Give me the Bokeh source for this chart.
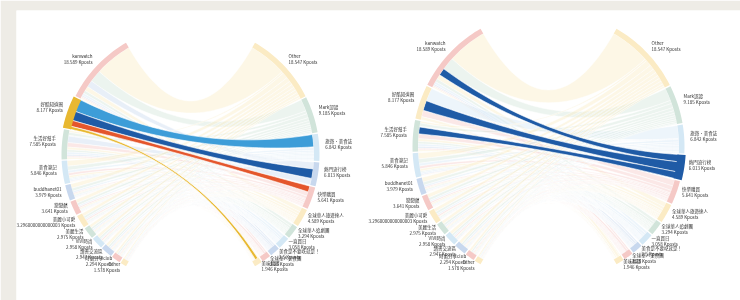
import math
from bokeh.plotting import figure
from bokeh.models import Range1d, ColumnDataSource
from bokeh.core.properties import value
from bokeh.embed import file_html
from bokeh.resources import INLINE

# ---------------- data ----------------
left_names = ["kanwatch", "好酷知道圈", "生活好幫手", "美食筆記", "buddhanet01", "戀戀館",
              "美麗小可愛", "美麗生活", "VIVI時尚", "讀書交流區", "時尚分享club", "Other"]
left_values = [18.589, 8.177, 7.585, 5.846, 3.979, 3.641,
               3.2960000000000003, 2.975, 2.958, 2.947, 2.294, 1.578]

right_names = ["Other", "Mark認證", "旅遊・美食誌", "熱門流行榜", "快樂購買", "全球華人旅遊達人",
               "全球華人追劇團", "一直買日", "美食是不要吃就是！", "全球華人美食團", "美味翻譯"]
right_values = [18.547, 9.185, 6.842, 6.013, 5.641, 4.589, 3.294, 3.058, 2.5, 2.25, 1.946]

# flows[source][target]  (Kposts)
flows = [
    [10.0, 3.2, 0.0, 1.8, 0.0, 1.2, 0.8, 0.6, 0.4, 0.3, 0.289],
    [0.0, 0.0, 3.3, 2.5, 1.6, 0.0, 0.0, 0.0, 0.0, 0.0, 0.777],
    [0.5, 0.8, 0.2, 1.713, 1.2, 0.7, 0.6, 0.6, 0.5, 0.4, 0.372],
    [1.5, 1.1, 0.7, 0.0, 0.7, 0.6, 0.3, 0.4, 0.3, 0.146, 0.1],
    [1.2, 0.8, 0.5, 0.0, 0.3, 0.3, 0.3, 0.2, 0.2, 0.1, 0.079],
    [1.0, 0.7, 0.4, 0.0, 0.4, 0.4, 0.2, 0.2, 0.15, 0.1, 0.091],
    [0.9, 0.6, 0.4, 0.0, 0.4, 0.2, 0.3, 0.2, 0.15, 0.1, 0.046],
    [0.8, 0.55, 0.4, 0.0, 0.2, 0.3, 0.2, 0.2, 0.15, 0.1, 0.075],
    [0.8, 0.5, 0.3, 0.0, 0.35, 0.25, 0.25, 0.2, 0.15, 0.1, 0.058],
    [0.8, 0.5, 0.4, 0.0, 0.2, 0.3, 0.2, 0.2, 0.15, 0.1, 0.097],
    [0.6, 0.4, 0.2, 0.0, 0.25, 0.25, 0.2, 0.15, 0.1, 0.1, 0.044],
    [0.4, 0.2, 0.2, 0.0, 0.2, 0.15, 0.1, 0.1, 0.1, 0.08, 0.048],
]

# ---------------- styles ----------------
pastel = ["#f5c9c6", "#fbebc4", "#d1e4da", "#d4e8f5", "#c8d8ee"]
strong = ["#e4562c", "#e8b830", "#5aa37c", "#3d9dd8", "#1f5ba6"]
FONT = value("Noto Sans CJK TC")


def left_color(i, pal):
    return pal[i % 5]


def right_color(j, pal):
    return pal[(j + 1) % 5]


def pt(cx, cy, r, deg):
    a = math.radians(deg)
    return cx + r * math.cos(a), cy - r * math.sin(a)


def arc_pts(cx, cy, r, d0, d1, n=24):
    xs, ys = [], []
    for k in range(n + 1):
        x, y = pt(cx, cy, r, d0 + (d1 - d0) * k / n)
        xs.append(x)
        ys.append(y)
    return xs, ys


def bezier(p0, c, p2, n=40):
    xs, ys = [], []
    for k in range(n + 1):
        t = k / n
        a, b, d = (1 - t) ** 2, 2 * t * (1 - t), t ** 2
        xs.append(a * p0[0] + b * c[0] + d * p2[0])
        ys.append(a * p0[1] + b * c[1] + d * p2[1])
    return xs, ys


def layout(values, start, direction, gap=0.6, span=120.0):
    n = len(values)
    usable = span - gap * (n - 1)
    tot = sum(values)
    segs = []
    cur = start
    for v in values:
        w = v / tot * usable
        segs.append((cur, cur + direction * w))
        cur += direction * (w + gap)
    return segs


def draw_chord(p, cx, cy, r, band, hl_src=None, hl_tgt=None):
    rin = r - band
    lsegs = layout(left_values, 120.0, +1)
    rsegs = layout(right_values, 60.0, -1)
    nL, nR = len(left_values), len(right_values)
    rowsum = [sum(flows[i]) for i in range(nL)]
    colsum = [sum(flows[i][j] for i in range(nL)) for j in range(nR)]

    src_ang = {}
    for i in range(nL):
        a0, a1 = lsegs[i]
        cum = 0.0
        for j in range(nR):
            f = flows[i][j]
            if f > 0:
                src_ang[(i, j)] = (a0 + (a1 - a0) * cum / rowsum[i],
                                   a0 + (a1 - a0) * (cum + f) / rowsum[i])
            cum += f
    tgt_ang = {}
    for j in range(nR):
        b0, b1 = rsegs[j]
        cum = 0.0
        for i in range(nL):
            f = flows[i][j]
            if f > 0:
                tgt_ang[(i, j)] = (b0 + (b1 - b0) * cum / colsum[j],
                                   b0 + (b1 - b0) * (cum + f) / colsum[j])
            cum += f

    pale = dict(xs=[], ys=[], c=[])
    hi = dict(xs=[], ys=[], c=[])
    for (i, j), (a_top, a_bot) in src_ang.items():
        b_top, b_bot = tgt_ang[(i, j)]
        xs1, ys1 = arc_pts(cx, cy, rin, a_top, a_bot, 8)
        xs2, ys2 = bezier(pt(cx, cy, rin, a_bot), (cx, cy), pt(cx, cy, rin, b_bot))
        xs3, ys3 = arc_pts(cx, cy, rin, b_bot, b_top, 8)
        xs4, ys4 = bezier(pt(cx, cy, rin, b_top), (cx, cy), pt(cx, cy, rin, a_top))
        xs = xs1 + xs2 + xs3 + xs4
        ys = ys1 + ys2 + ys3 + ys4
        if (hl_src is not None and i == hl_src) or (hl_tgt is not None and j == hl_tgt):
            hi["xs"].append(xs); hi["ys"].append(ys); hi["c"].append(right_color(j, strong))
        else:
            pale["xs"].append(xs); pale["ys"].append(ys); pale["c"].append(right_color(j, pastel))

    p.patches("xs", "ys", source=ColumnDataSource(pale), fill_color="c",
              fill_alpha=0.42, line_color="white", line_width=0.6, line_alpha=0.8)
    p.patches("xs", "ys", source=ColumnDataSource(hi), fill_color="c",
              fill_alpha=1.0, line_color="white", line_width=0.6)

    arcs = dict(xs=[], ys=[], c=[])
    for side, segs in (("L", lsegs), ("R", rsegs)):
        for k, (d0, d1) in enumerate(segs):
            is_hi = (side == "L" and k == hl_src) or (side == "R" and k == hl_tgt)
            b = band * 1.5 if is_hi else band
            ox, oy = arc_pts(cx, cy, r + (b - band) * 0.5, d0, d1)
            ix, iy = arc_pts(cx, cy, r + (b - band) * 0.5 - b, d1, d0)
            arcs["xs"].append(ox + ix)
            arcs["ys"].append(oy + iy)
            if side == "L":
                arcs["c"].append(left_color(k, strong if is_hi else pastel))
            else:
                arcs["c"].append(right_color(k, strong if is_hi else pastel))
    p.patches("xs", "ys", source=ColumnDataSource(arcs), fill_color="c", line_color=None)

    for segs, names, vals, align in ((lsegs, left_names, left_values, "right"),
                                     (rsegs, right_names, right_values, "left")):
        lx, ly, lt = [], [], []
        for (d0, d1), nm, v in zip(segs, names, vals):
            x, y = pt(cx, cy, r + 6, (d0 + d1) / 2)
            lx.append(x)
            ly.append(y - 3)
            lt.append(f"{nm}\n{v} Kposts")
        p.text(x=lx, y=ly, text=lt, text_font=FONT, text_font_size="4.5px",
               text_color="#333333", text_align=align, text_baseline="middle",
               text_line_height=1.0)


p = figure(width=740, height=300, x_range=Range1d(16, 740), y_range=Range1d(300, 10),
           output_backend="svg", toolbar_location=None,
           x_axis_location=None, y_axis_location=None,
           min_border_left=16, min_border_top=10, min_border_right=0, min_border_bottom=0)
p.grid.visible = False
p.outline_line_color = None
p.border_fill_color = "#eeece6"
p.background_fill_color = "white"
p.styles = {"position": "fixed", "top": "0px", "left": "0px"}

draw_chord(p, 190, 154, 129, 5.5, hl_src=1)
draw_chord(p, 548, 146, 136, 5.5, hl_tgt=3)

open("out.html", "w").write(file_html(p, INLINE))
